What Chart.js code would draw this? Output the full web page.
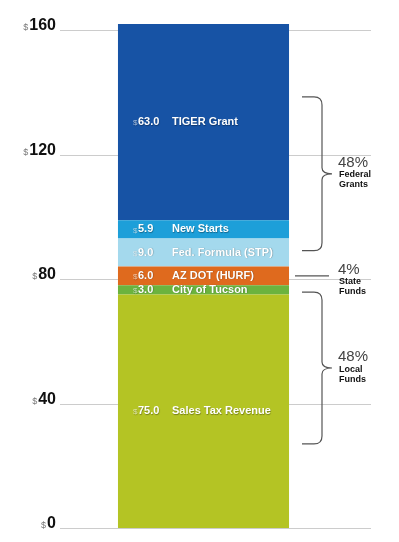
<!DOCTYPE html>
<html>
<head>
<meta charset="utf-8">
<script src="https://cdn.jsdelivr.net/npm/chart.js@4"></script>
<style>
  html, body { margin: 0; padding: 0; background: #fff; }
  canvas { display: block; }
</style>
</head>
<body>
<canvas id="myChart" width="399" height="542"></canvas>
<script>
    // Datos de la gráfica (de abajo hacia arriba)
    const fuentes = ['Sales Tax Revenue', 'City of Tucson', 'AZ DOT (HURF)', 'Fed. Formula (STP)', 'New Starts', 'TIGER Grant'];
    const montos = [75.0, 3.0, 6.0, 9.0, 5.9, 63.0];
    const colores = ['#b4c424', '#6bb33e', '#df6a1e', '#a4d9ed', '#1d9fd9', '#1753a5'];
    const ticksY = [0, 40, 80, 120, 160];

    // Grupos con llave a la derecha
    const grupoPct = ['48%', '4%', '48%'];
    const grupoNombre = [['Federal', 'Grants'], ['State', 'Funds'], ['Local', 'Funds']];
    const grupoRango = [[89.1, 138.5], [81, 81], [27, 75.8]];

    const FONT = '"Liberation Sans", Arial, Helvetica, sans-serif';

    const dibujoExtra = {
      id: 'dibujoExtra',
      beforeDatasetsDraw(chart) {
        const { ctx, scales: { y } } = chart;
        ctx.save();
        // líneas de la cuadrícula y etiquetas del eje
        ticksY.forEach(v => {
          const py = Math.round(y.getPixelForValue(v)) + 0.5;
          ctx.strokeStyle = '#cccccc';
          ctx.lineWidth = 1;
          ctx.beginPath();
          ctx.moveTo(60, py);
          ctx.lineTo(371, py);
          ctx.stroke();

          ctx.textBaseline = 'alphabetic';
          ctx.textAlign = 'right';
          ctx.font = 'bold 16px ' + FONT;
          ctx.fillStyle = '#111';
          const num = String(v);
          ctx.fillText(num, 56, py - 1);
          const w = ctx.measureText(num).width;
          ctx.font = '9px ' + FONT;
          ctx.fillStyle = '#777';
          ctx.fillText('$', 56 - w - 1, py - 1);
        });
        ctx.restore();
      },
      afterDatasetsDraw(chart) {
        const { ctx, scales: { y } } = chart;
        ctx.save();
        // etiquetas dentro de la barra
        let base = 0;
        montos.forEach((m, i) => {
          const cy = y.getPixelForValue(base + m / 2);
          base += m;
          ctx.textBaseline = 'middle';
          ctx.shadowColor = 'rgba(0,0,0,0.35)';
          ctx.shadowBlur = 1;
          ctx.shadowOffsetX = 0.5;
          ctx.shadowOffsetY = 0.5;
          ctx.textAlign = 'left';
          ctx.font = '8px ' + FONT;
          ctx.fillStyle = 'rgba(255,255,255,0.6)';
          ctx.fillText('$', 133, cy + 1);
          ctx.font = 'bold 11px ' + FONT;
          ctx.fillStyle = '#ffffff';
          ctx.fillText(m.toFixed(1), 138, cy);
          ctx.fillText(fuentes[i], 172, cy);
        });
        ctx.shadowColor = 'transparent';

        // llaves y textos de los grupos
        ctx.strokeStyle = '#555';
        ctx.lineWidth = 1.2;
        grupoRango.forEach((r, i) => {
          const top = y.getPixelForValue(r[1]);
          const bot = y.getPixelForValue(r[0]);
          const mid = (top + bot) / 2;
          ctx.beginPath();
          if (r[0] === r[1]) {
            ctx.moveTo(295, mid);
            ctx.lineTo(329, mid);
          } else {
            ctx.moveTo(302, top);
            ctx.lineTo(314, top);
            ctx.quadraticCurveTo(322, top, 322, top + 8);
            ctx.lineTo(322, mid - 6);
            ctx.quadraticCurveTo(322, mid, 332, mid);
            ctx.quadraticCurveTo(322, mid, 322, mid + 6);
            ctx.lineTo(322, bot - 8);
            ctx.quadraticCurveTo(322, bot, 314, bot);
            ctx.lineTo(302, bot);
          }
          ctx.stroke();

          const tx = 338;
          const ty = r[0] === r[1] ? mid - 6 : mid - 11;
          ctx.textAlign = 'left';
          ctx.textBaseline = 'middle';
          ctx.font = '15px ' + FONT;
          ctx.fillStyle = '#444';
          ctx.fillText(grupoPct[i], tx, ty);
          ctx.font = 'bold 9px ' + FONT;
          ctx.fillStyle = '#111';
          ctx.fillText(grupoNombre[i][0], tx + 1, ty + 12);
          ctx.fillText(grupoNombre[i][1], tx + 1, ty + 22);
        });
        ctx.restore();
      }
    };

    const ctx = document.getElementById('myChart').getContext('2d');
    const myChart = new Chart(ctx, {
      type: 'bar',
      data: {
        labels: ['Fuentes'],
        datasets: montos.map((m, i) => ({
          label: fuentes[i],
          data: [m],
          backgroundColor: colores[i],
          borderWidth: 0,
          barPercentage: 0.596,
          categoryPercentage: 1,
          clip: false
        }))
      },
      options: {
        responsive: false,
        animation: false,
        layout: { padding: { top: 30, bottom: 14, left: 60, right: 52 } },
        plugins: { legend: { display: false }, tooltip: { enabled: false } },
        scales: {
          x: { stacked: true, display: false },
          y: { stacked: true, display: false, min: 0, max: 160 }
        }
      },
      plugins: [dibujoExtra]
    });
</script>
</body>
</html>
